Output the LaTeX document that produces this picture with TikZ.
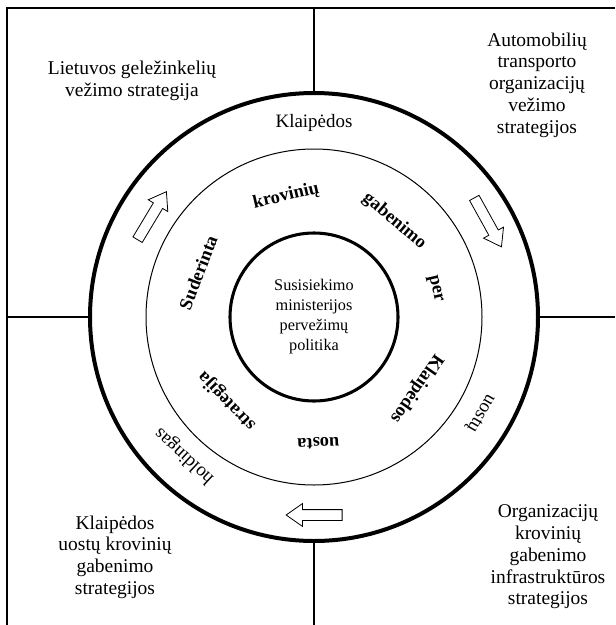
\documentclass[tikz,border=0pt]{standalone}
\usepackage{fontspec}
\setmainfont{Liberation Serif}
\usetikzlibrary{shapes.arrows}
\begin{document}
\begin{tikzpicture}[x=0.75pt,y=-0.75pt,
  ring/.style={circle, draw, inner sep=0pt, outer sep=0pt},
  corner/.style={align=center, inner sep=0pt, font=\fontsize{14.6}{16.3}\selectfont},
  centertxt/.style={align=center, inner sep=0pt, font=\fontsize{12.2}{15}\selectfont},
  ringtxt/.style={inner sep=0pt, font=\fontsize{14.2}{16}\selectfont},
  ringbold/.style={inner sep=0pt, font=\fontsize{13.8}{16}\selectfont\bfseries},
  flow/.style={single arrow, draw, fill=white, line width=0.6pt,
    minimum height=42pt, minimum width=0pt, inner xsep=0pt, inner ysep=3.75pt,
    single arrow head extend=4.5pt, single arrow tip angle=70},
  frameline/.style={line width=0.9pt},
  axisline/.style={line width=0.8pt}]
\useasboundingbox (0,0) rectangle (615,625);

% frame (cropped at right and bottom)
\coordinate (frTR) at (615,8);
\coordinate (frTL) at (7,8);
\coordinate (frBL) at (7,625);
\draw[frameline] (frTR) -- (frTL) -- (frBL);

% circles
\coordinate (C) at (314,317);
\node[ring, line width=3pt, minimum size=336pt] (outer) at (C) {};
\node[ring, line width=0.75pt, minimum size=252pt] (middle) at (C) {};
\node[ring, line width=2.3pt, minimum size=126pt] (inner) at (C) {};

% axes
\coordinate (axT) at (314,8);
\coordinate (axB) at (314,625);
\coordinate (axL) at (7,317);
\coordinate (axR) at (615,317);
\draw[axisline] (axT) -- (outer.north);
\draw[axisline] (outer.south) -- (axB);
\draw[axisline] (axL) -- (outer.west);
\draw[axisline] (outer.east) -- (axR);

% centre text
\node[centertxt] (policy) at (C) {Susisiekimo\\ministerijos\\pervežimų\\politika};

% middle ring words (bold)
\path (C) ++(-159:124) node[ringbold, rotate=69] (w1) {Suderinta};
\path (C) ++(-103:124) node[ringbold, rotate=13] (w2) {krovinių};
\path (C) ++(-50:125) node[ringbold, rotate=-40] (w3) {gabenimo};
\path (C) ++(-13:124) node[ringbold, rotate=-77] (w4) {per};
\path (C) ++(35:125) node[ringbold, rotate=-125] (w5) {Klaipėdos};
\path (C) ++(88:126) node[ringbold, rotate=-178] (w6) {uosta};
\path (C) ++(136:121) node[ringbold, rotate=134] (w7) {strategija};

% outer ring words
\path (C) ++(-90:194) node[ringtxt] (o1) {Klaipėdos};
\path (C) ++(30:192) node[ringtxt, rotate=-120] (o2) {uostų};
\path (C) ++(133:190) node[ringtxt, rotate=137] (o3) {holdingas};

% flow arrows
\node[flow, rotate=59] (a1) at (150,219) {};
\node[flow, rotate=-61] (a2) at (486,219) {};
\node[flow, rotate=180] (a3) at (318,515) {};

% corner texts
\node[corner] (tl) at (132,81) {Lietuvos geležinkelių\\vežimo strategija};
\node[corner] (tr) at (537,85) {Automobilių\\transporto\\organizacijų\\vežimo\\strategijos};
\node[corner] (bl) at (115,557) {Klaipėdos\\uostų krovinių\\gabenimo\\strategijos};
\node[corner] (br) at (548,557) {Organizacijų\\krovinių\\gabenimo\\infrastruktūros\\strategijos};
\end{tikzpicture}
\end{document}
